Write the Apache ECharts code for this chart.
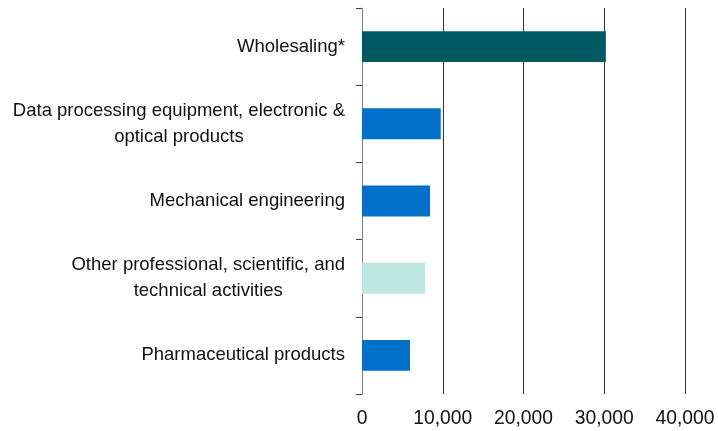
<!DOCTYPE html>
<html><head><meta charset="utf-8">
<script src="https://cdn.jsdelivr.net/npm/echarts@6/dist/echarts.min.js"></script>
<style>html,body{margin:0;padding:0;background:#fff}#c{width:718px;height:431px}</style>
</head><body><div id="c"></div>
<script>
const categories = [
  'Wholesaling*',
  'Data processing equipment, electronic &\noptical products',
  'Mechanical engineering',
  'Other professional, scientific, and\ntechnical activities',
  'Pharmaceutical products'
];
const values = [30200, 9750, 8420, 7800, 5940];
const barColors = ['#005A64', '#0070C8', '#0070C8', '#BEE6E1', '#0070C8'];
const xTicks = [0, 10000, 20000, 30000, 40000];

const FONT = 'Liberation Sans, Arial, sans-serif';
const chart = echarts.init(document.getElementById('c'));
chart.setOption({
  animation: false,
  grid: { left: 362, right: 33, top: 8, bottom: 37, containLabel: false },
  xAxis: {
    type: 'value', min: xTicks[0], max: xTicks[xTicks.length - 1], interval: 10000,
    axisLine: { show: false }, axisTick: { show: false },
    splitLine: { show: true, lineStyle: { color: '#333333', width: 1 } },
    axisLabel: {
      margin: 15, fontFamily: FONT, fontSize: 19.3, color: '#111',
      formatter: v => v.toLocaleString('en-US')
    }
  },
  yAxis: {
    type: 'category', data: categories, inverse: true,
    axisLine: { show: true, lineStyle: { color: '#808080', width: 1 } },
    axisTick: { show: true, length: 6, lineStyle: { color: '#404040' } },
    axisLabel: {
      margin: 17, align: 'right', color: '#111',
      formatter: v => v.split('\n').map(s => '{c|' + s + '}').join('\n'),
      rich: { c: { align: 'center', fontFamily: FONT, fontSize: 18.5, lineHeight: 26, color: '#111' } }
    }
  },
  series: [{
    type: 'bar', barCategoryGap: '60%',
    data: values.map((v, i) => ({ value: v, itemStyle: { color: barColors[i] } }))
  }]
});
</script></body></html>
